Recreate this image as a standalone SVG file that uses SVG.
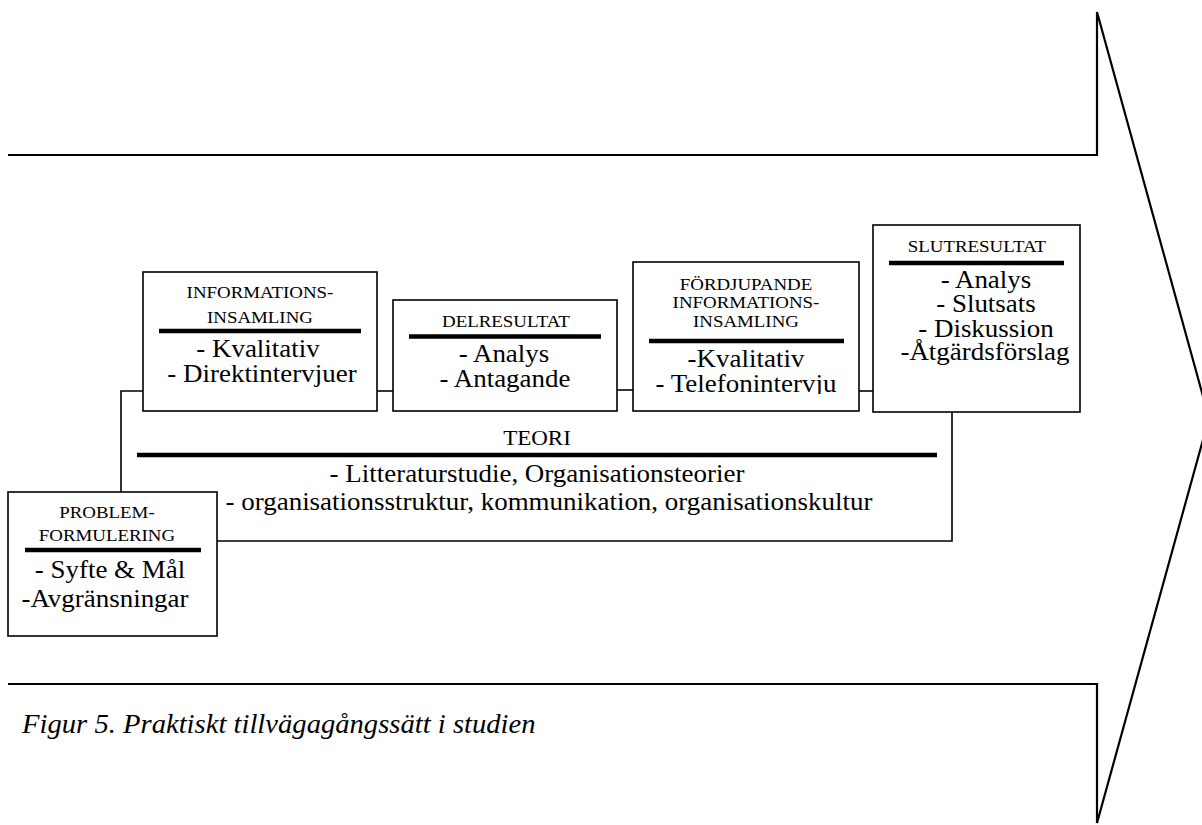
<svg xmlns="http://www.w3.org/2000/svg" width="1202" height="825" viewBox="0 0 1202 825">
  <style>
    text { font-family: "Liberation Serif", "Times New Roman", serif; fill: #000; text-anchor: middle;
           transform-box: fill-box; transform-origin: 50% 50%; }
    .hd { font-size: 16px; transform: scaleX(1.18); }
    .bd { font-size: 24.5px; transform: scaleX(1.1); }
    .th { font-size: 20px; transform: scaleX(1.15); }
    .cap { font-size: 26.5px; font-style: italic; text-anchor: start; transform-origin: 0% 50%; transform: scaleX(1.08); }
    .box { fill: #fff; stroke: #000; stroke-width: 1.6; }
    .bar { stroke: #000; stroke-width: 4.5; }
    .link { fill: none; stroke: #000; stroke-width: 1.6; }
    .arrow { fill: none; stroke: #000; stroke-width: 2.2; stroke-linejoin: miter; }
  </style>
  <defs>
    <clipPath id="fordClip">
      <rect x="633" y="262" width="226" height="132"/>
    </clipPath>
  </defs>

  <!-- big process arrow -->
  <path class="arrow" d="M8,155 H1097 V12 L1209,418 L1097,823 V684 H8"/>

  <!-- connectors -->
  <g id="connectors">
    <path class="link" d="M121,492 V391 H143"/>
    <path class="link" d="M377,391 H393"/>
    <path class="link" d="M617,390 H633"/>
    <path class="link" d="M859,391 H873"/>
    <path class="link" d="M217,541 H952 V412"/>
  </g>

  <!-- theory band -->
  <g id="teori">
    <text class="th" x="537" y="445">TEORI</text>
    <line class="bar" x1="137" y1="455" x2="937" y2="455"/>
    <text class="bd" x="537" y="482">- Litteraturstudie, Organisationsteorier</text>
    <text class="bd" x="549" y="510">- organisationsstruktur, kommunikation, organisationskultur</text>
  </g>

  <g id="problemformulering">
    <rect class="box" x="8" y="492" width="209" height="144"/>
    <text class="hd" x="107" y="518">PROBLEM-</text>
    <text class="hd" x="107" y="541">FORMULERING</text>
    <line class="bar" x1="25" y1="550" x2="201" y2="550"/>
    <text class="bd" x="110" y="578">- Syfte &amp; Mål</text>
    <text class="bd" x="105" y="607">-Avgränsningar</text>
  </g>

  <g id="informationsinsamling">
    <rect class="box" x="143" y="272" width="234" height="139"/>
    <text class="hd" x="260" y="298">INFORMATIONS-</text>
    <text class="hd" x="260" y="323">INSAMLING</text>
    <line class="bar" x1="159" y1="331" x2="361" y2="331"/>
    <text class="bd" x="258" y="357">- Kvalitativ</text>
    <text class="bd" x="262" y="382">- Direktintervjuer</text>
  </g>

  <g id="delresultat">
    <rect class="box" x="393" y="300" width="224" height="111"/>
    <text class="hd" x="506" y="327">DELRESULTAT</text>
    <line class="bar" x1="409" y1="336.5" x2="601" y2="336.5"/>
    <text class="bd" x="504" y="362">- Analys</text>
    <text class="bd" x="505" y="387">- Antagande</text>
  </g>

  <g id="fordjupande">
    <rect class="box" x="633" y="262" width="226" height="149"/>
    <text class="hd" x="746" y="290">FÖRDJUPANDE</text>
    <text class="hd" x="746" y="308">INFORMATIONS-</text>
    <text class="hd" x="746" y="327">INSAMLING</text>
    <line class="bar" x1="649" y1="341" x2="844" y2="341"/>
    <text class="bd" x="746" y="367">-Kvalitativ</text>
    <g clip-path="url(#fordClip)">
      <text class="bd" x="746" y="392">- Telefonintervju</text>
    </g>
  </g>

  <g id="slutresultat">
    <rect class="box" x="873" y="225" width="207" height="187"/>
    <text class="hd" x="977" y="252">SLUTRESULTAT</text>
    <line class="bar" x1="889" y1="263" x2="1064" y2="263"/>
    <text class="bd" x="986" y="288">- Analys</text>
    <text class="bd" x="986" y="312">- Slutsats</text>
    <text class="bd" x="986" y="337">- Diskussion</text>
    <text class="bd" x="985" y="360">-Åtgärdsförslag</text>
  </g>

  <text class="cap" x="22" y="733">Figur 5. Praktiskt tillvägagångssätt i studien</text>
</svg>
